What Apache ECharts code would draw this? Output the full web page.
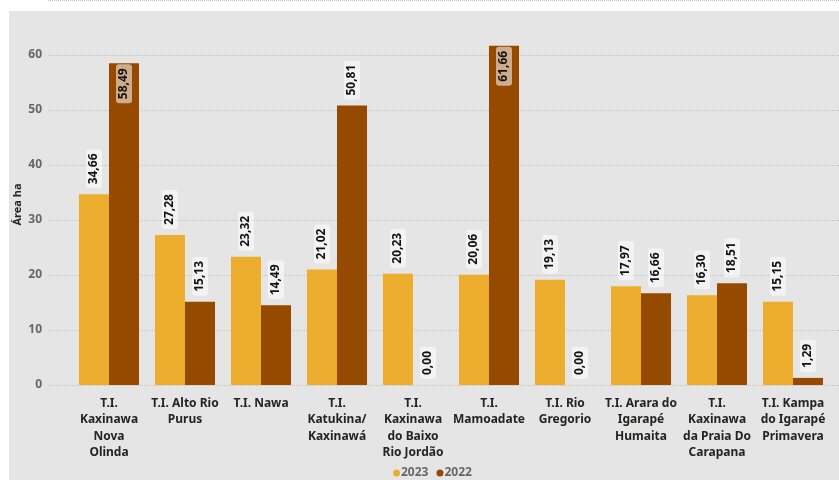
<!DOCTYPE html>
<html>
<head>
<meta charset="utf-8">
<script src="https://cdn.jsdelivr.net/npm/echarts@6/dist/echarts.min.js"></script>
<style>
  html, body { margin: 0; padding: 0; background: #ffffff; }
  #chart { width: 839px; height: 480px; }
</style>
</head>
<body>
<div id="chart"></div>
<script>
// Terras Indígenas and burned area (ha) per year
const categories = [
  'T.I.\nKaxinawa\nNova\nOlinda',
  'T.I. Alto Rio\nPurus',
  'T.I. Nawa',
  'T.I.\nKatukina/\nKaxinawá',
  'T.I.\nKaxinawa\ndo Baixo\nRio Jordão',
  'T.I.\nMamoadate',
  'T.I. Rio\nGregorio',
  'T.I. Arara do\nIgarapé\nHumaita',
  'T.I.\nKaxinawa\nda Praia Do\nCarapana',
  'T.I. Kampa\ndo Igarapé\nPrimavera'
];
const values2023 = [34.66, 27.28, 23.32, 21.02, 20.23, 20.06, 19.13, 17.97, 16.30, 15.15];
const values2022 = [58.49, 15.13, 14.49, 50.81, 0.00, 61.66, 0.00, 16.66, 18.51, 1.29];
const seriesNames = ['2023', '2022'];
const yTicks = { min: 0, max: 70, interval: 10 };

const FONT = 'Noto Sans';
const fmt = v => v.toFixed(2).replace('.', ',');

const labelBase = {
  show: true,
  rotate: 90,
  fontFamily: FONT,
  fontSize: 12,
  fontWeight: 'bold',
  color: '#111',
  backgroundColor: 'rgba(255,255,255,0.55)',
  borderRadius: 3,
  padding: [2, 4, 2, 4],
  formatter: p => fmt(p.value)
};

// tall bars carry their label inside the top of the bar
function buildData(values) {
  return values.map(v => {
    if (v > 55) {
      return {
        value: v,
        label: { position: 'insideTop', align: 'right', verticalAlign: 'middle', distance: 1 }
      };
    }
    return v;
  });
}

const chart = echarts.init(document.getElementById('chart'), null, { renderer: 'canvas' });

chart.setOption({
  backgroundColor: '#ffffff',
  animation: false,
  graphic: [{
    type: 'rect',
    left: 9, top: 11,
    shape: { width: 830, height: 469 },
    style: { fill: '#e5e5e5' },
    z: -10
  }],
  legend: {
    left: 388, top: 462,
    itemWidth: 7, itemHeight: 7, itemGap: 8,
    icon: 'circle',
    textStyle: { fontFamily: FONT, fontSize: 12, fontWeight: 'bold', color: '#666', padding: [0, 0, 0, -4] },
    data: seriesNames
  },
  grid: [
    { left: 48, right: 0, top: -2, bottom: 95 },
    { left: 71, right: 8, top: -2, bottom: 95 }
  ],
  xAxis: [
    { gridIndex: 0, type: 'category', data: categories, show: false },
    {
      gridIndex: 1, type: 'category', data: categories,
      axisLine: { show: false }, axisTick: { show: false },
      axisLabel: {
        interval: 0, margin: 10,
        fontFamily: FONT, fontSize: 12, fontWeight: 'bold',
        color: '#252423', lineHeight: 16.5, align: 'center'
      }
    }
  ],
  yAxis: [
    {
      gridIndex: 0, type: 'value', min: yTicks.min, max: yTicks.max, interval: yTicks.interval,
      name: 'Área ha', nameLocation: 'middle', nameRotate: 90, nameGap: 25,
      nameMoveOverlap: false,
      nameTextStyle: {
        fontFamily: FONT, fontSize: 11, fontWeight: 'bold', color: '#252423',
        padding: [0, 24, 0, 0]
      },
      axisLine: { show: false }, axisTick: { show: false },
      axisLabel: {
        showMaxLabel: false, margin: 6,
        fontFamily: FONT, fontSize: 12, fontWeight: 'bold', color: '#666'
      },
      splitLine: { show: true, lineStyle: { type: 'dotted', color: '#c4c4c4', width: 1 } }
    },
    {
      gridIndex: 1, type: 'value', min: yTicks.min, max: yTicks.max, interval: yTicks.interval,
      show: false, splitLine: { show: false }
    }
  ],
  series: [
    {
      name: seriesNames[0], type: 'bar', xAxisIndex: 1, yAxisIndex: 1,
      data: buildData(values2023),
      barGap: '0%', barCategoryGap: '21%',
      itemStyle: { color: '#EDAD2F' },
      label: Object.assign({}, labelBase, { position: 'top', align: 'left', verticalAlign: 'middle', distance: 6 })
    },
    {
      name: seriesNames[1], type: 'bar', xAxisIndex: 1, yAxisIndex: 1,
      data: buildData(values2022),
      barGap: '0%', barCategoryGap: '21%',
      itemStyle: { color: '#954A00' },
      label: Object.assign({}, labelBase, { position: 'top', align: 'left', verticalAlign: 'middle', distance: 6 })
    }
  ]
});
</script>
</body>
</html>
